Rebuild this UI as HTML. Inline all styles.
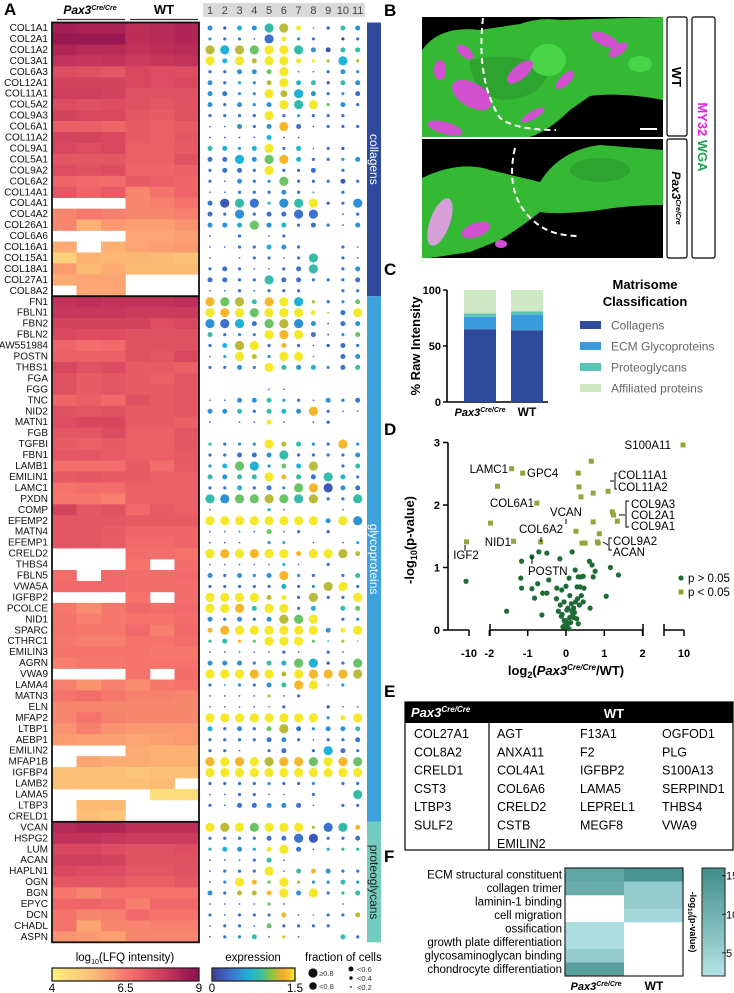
<!DOCTYPE html>
<html><head><meta charset="utf-8"><style>
html,body{margin:0;padding:0;background:#fff;}
svg{display:block;font-family:"Liberation Sans",Arial,sans-serif;}
</style></head><body>
<svg id="fig" width="734" height="993" viewBox="0 0 734 993" xmlns="http://www.w3.org/2000/svg">
<defs>
<linearGradient id="lfqGrad" x1="0" x2="1" y1="0" y2="0">
<stop offset="0" stop-color="#fdf07b"/><stop offset="0.16" stop-color="#fdd27a"/><stop offset="0.3" stop-color="#fcb774"/><stop offset="0.4" stop-color="#fb9a70"/><stop offset="0.5" stop-color="#f6786c"/><stop offset="0.6" stop-color="#eb6066"/><stop offset="0.7" stop-color="#d9475f"/><stop offset="0.8" stop-color="#c1335a"/><stop offset="0.9" stop-color="#a51e54"/><stop offset="1" stop-color="#8c114f"/>
</linearGradient>
<linearGradient id="exprGrad" x1="0" x2="1" y1="0" y2="0">
<stop offset="0" stop-color="#3e3e9a"/><stop offset="0.25" stop-color="#3a78d4"/><stop offset="0.45" stop-color="#1fb3d6"/><stop offset="0.6" stop-color="#40bf98"/><stop offset="0.72" stop-color="#8dc63f"/><stop offset="0.86" stop-color="#f7a92c"/><stop offset="1" stop-color="#f4e829"/>
</linearGradient>
<linearGradient id="goGrad" x1="0" x2="0" y1="0" y2="1">
<stop offset="0" stop-color="#3f8d8a"/><stop offset="1" stop-color="#b4e3e6"/>
</linearGradient>
</defs>
<g id="panelA"></g>
<g id="panelB">
<text x="384" y="16" font-size="17" font-weight="bold">B</text>
<rect x="422" y="17" width="241" height="120" fill="#000"/>
<path d="M422,50 Q440,25 480,30 L520,24 Q540,17 560,20 L663,17 L663,100 Q620,92 590,96 L570,110 Q550,130 530,137 L422,137 Z" fill="#35b935"/>
<path d="M470,60 Q520,50 550,70 Q540,100 500,100 Q470,90 470,60Z" fill="#2fa32f"/>
<ellipse cx="548" cy="60" rx="18" ry="16" fill="#48d648"/>
<ellipse cx="640" cy="64" rx="12" ry="8" fill="#48d648"/>
<g fill="#d050d0">
<ellipse cx="472" cy="95" rx="22" ry="12" transform="rotate(30 472 95)"/>
<ellipse cx="445" cy="128" rx="18" ry="6" transform="rotate(15 445 128)"/>
<ellipse cx="520" cy="72" rx="16" ry="7" transform="rotate(-40 520 72)"/>
<ellipse cx="565" cy="80" rx="12" ry="5" transform="rotate(-45 565 80)"/>
<ellipse cx="605" cy="40" rx="15" ry="6" transform="rotate(25 605 40)"/>
<ellipse cx="618" cy="50" rx="11" ry="5" transform="rotate(-35 618 50)"/>
<ellipse cx="533" cy="115" rx="13" ry="4" transform="rotate(-30 533 115)"/>
<ellipse cx="465" cy="52" rx="10" ry="5" transform="rotate(40 465 52)"/>
<ellipse cx="440" cy="70" rx="6" ry="10"/>
</g>
<path d="M483,18 Q476,80 500,118 Q515,130 556,130" fill="none" stroke="#fff" stroke-width="2" stroke-dasharray="6,4"/>
<line x1="640" y1="129" x2="657" y2="129" stroke="#fff" stroke-width="2"/>
<rect x="422" y="139" width="241" height="119" fill="#000"/>
<path d="M422,178 Q460,160 490,170 L540,182 Q560,150 600,145 L663,150 L663,205 Q630,205 600,210 Q560,215 540,212 Q520,228 500,240 L470,252 L430,258 L422,258 Z" fill="#35b935"/>
<ellipse cx="600" cy="170" rx="30" ry="12" fill="#2fa32f"/>
<g fill="#d050d0">
<ellipse cx="476" cy="230" rx="15" ry="7" transform="rotate(-20 476 230)"/>
<ellipse cx="501" cy="244" rx="6" ry="4"/>
</g>
<ellipse cx="440" cy="222" rx="10" ry="25" transform="rotate(20 440 222)" fill="#d8a0d8"/>
<path d="M515,148 Q503,200 540,226 Q555,236 580,236" fill="none" stroke="#fff" stroke-width="2" stroke-dasharray="6,4"/>
<rect x="667" y="17" width="20" height="119" rx="2" fill="#fff" stroke="#000" stroke-width="1.2"/>
<text transform="translate(672 77) rotate(90)" font-size="13" font-weight="bold" text-anchor="middle">WT</text>
<rect x="667" y="139" width="20" height="119" rx="2" fill="#fff" stroke="#000" stroke-width="1.2"/>
<text transform="translate(672 198) rotate(90)" font-size="12" font-weight="bold" font-style="italic" text-anchor="middle">Pax3<tspan font-size="7" dy="-4">Cre/Cre</tspan></text>
<rect x="692" y="17" width="23" height="241" rx="2" fill="#fff" stroke="#000" stroke-width="1.2"/>
<text transform="translate(698 137) rotate(90)" font-size="13" font-weight="bold" text-anchor="middle"><tspan fill="#e020e0">MY32 </tspan><tspan fill="#1ea050">WGA</tspan></text>
</g>
<g id="panelC">
<text x="384" y="275" font-size="17" font-weight="bold">C</text>
<text transform="translate(420 346) rotate(-90)" font-size="13" font-weight="bold" text-anchor="middle">% Raw Intensity</text>
<text x="645" y="289" font-size="13" font-weight="bold" text-anchor="middle">Matrisome</text>
<text x="645" y="306" font-size="13" font-weight="bold" text-anchor="middle">Classification</text>
</g>
<g id="panelD">
<text x="384" y="435" font-size="17" font-weight="bold">D</text>
<text transform="translate(414 540) rotate(-90)" font-size="13" font-weight="bold" text-anchor="middle">-log<tspan font-size="9" dy="3">10</tspan><tspan dy="-3">(p-value)</tspan></text>
<text x="566" y="675" font-size="13" font-weight="bold" text-anchor="middle">log<tspan font-size="9" dy="3">2</tspan><tspan dy="-3">(</tspan><tspan font-style="italic">Pax3</tspan><tspan font-size="8" font-style="italic" dy="-5">Cre/Cre</tspan><tspan dy="5">/WT)</tspan></text>
</g>
<g id="panelE">
<text x="384" y="697" font-size="17" font-weight="bold">E</text>
<rect x="405" y="702" width="328" height="148" fill="#fff" stroke="#000" stroke-width="1.2"/>
<rect x="405" y="702" width="328" height="21" fill="#000"/>
<text x="411" y="717" font-size="13" font-weight="bold" font-style="italic" fill="#fff">Pax3<tspan font-size="8" dy="-5">Cre/Cre</tspan></text>
<text x="614" y="718" font-size="13" font-weight="bold" fill="#fff" text-anchor="middle">WT</text>
<line x1="489" y1="723" x2="489" y2="850" stroke="#000" stroke-width="1.2"/>
</g>
<g id="panelF">
<text x="384" y="862" font-size="17" font-weight="bold">F</text>
<rect x="702" y="868" width="23" height="108" fill="url(#goGrad)" stroke="#222" stroke-width="1"/>
<text transform="translate(690 922) rotate(90)" font-size="9" font-weight="bold" text-anchor="middle">-log<tspan font-size="6" dy="2">10</tspan><tspan dy="-2">(p-value)</tspan></text>
<text x="596" y="990" font-size="11" font-weight="bold" font-style="italic" text-anchor="middle">Pax3<tspan font-size="7" dy="-4">Cre/Cre</tspan></text>
<text x="654" y="990" font-size="12" font-weight="bold" text-anchor="middle">WT</text>
</g>
</svg>
<script>
// ---------- Panel A data ----------
const collagenGenes=["COL1A1","COL2A1","COL1A2","COL3A1","COL6A3","COL12A1","COL11A1","COL5A2","COL9A3","COL6A1","COL11A2","COL9A1","COL5A1","COL9A2","COL6A2","COL14A1","COL4A1","COL4A2","COL26A1","COL6A6","COL16A1","COL15A1","COL18A1","COL27A1","COL8A2"];
const glycoGenes=["FN1","FBLN1","FBN2","FBLN2","AW551984","POSTN","THBS1","FGA","FGG","TNC","NID2","MATN1","FGB","TGFBI","FBN1","LAMB1","EMILIN1","LAMC1","PXDN","COMP","EFEMP2","MATN4","EFEMP1","CRELD2","THBS4","FBLN5","VWA5A","IGFBP2","PCOLCE","NID1","SPARC","CTHRC1","EMILIN3","AGRN","VWA9","LAMA4","MATN3","ELN","MFAP2","LTBP1","AEBP1","EMILIN2","MFAP1B","IGFBP4","LAMB2","LAMA5","LTBP3","CRELD1"];
const proteoGenes=["VCAN","HSPG2","LUM","ACAN","HAPLN1","OGN","BGN","EPYC","DCN","CHADL","ASPN"];
const sampleCols=["Pax3-1","Pax3-2","Pax3-3","WT-1","WT-2","WT-3"];
const _=null;
const lfqCollagen=[
[8.5,8.4,8.4,8.1,8.2,8.3],[8.7,8.7,8.7,8.1,8.2,8.3],[8.3,8.2,8.2,8.0,8.1,8.2],[8.0,7.9,8.0,7.8,7.9,8.0],[7.4,7.3,7.2,7.5,7.4,7.4],
[7.6,7.6,7.6,7.5,7.4,7.5],[7.7,7.7,7.6,7.3,7.3,7.3],[7.4,7.3,7.4,7.3,7.2,7.3],[7.6,7.5,7.5,7.2,7.1,7.3],[7.0,7.0,6.9,7.1,7.0,7.1],
[7.6,7.6,7.5,7.1,7.0,7.2],[7.5,7.4,7.5,7.0,7.0,7.1],[7.2,7.2,7.2,7.0,7.0,7.3],[7.4,7.3,7.4,6.9,6.9,7.0],[6.9,6.8,6.7,7.1,7.0,6.9],
[7.2,6.9,7.1,6.3,6.6,6.9],[_,_,_,6.3,6.4,6.6],[6.3,6.5,6.4,6.3,6.3,6.4],[6.3,5.6,6.0,5.9,5.9,6.1],[_,_,_,5.8,5.8,5.9],
[5.7,_,5.6,5.8,5.9,6.0],[4.8,5.6,5.5,5.5,5.4,5.2],[6.0,5.4,5.7,5.4,5.4,5.4],[5.7,5.8,5.8,_,_,_],[_,5.8,5.8,_,_,_]];
const lfqGlyco=[
[8.0,8.1,8.0,8.0,8.0,8.1],[7.9,7.9,7.9,7.8,7.8,7.8],[7.6,7.6,7.6,7.6,7.4,7.5],[7.5,7.4,7.4,7.3,7.3,7.3],[6.9,6.7,6.8,7.3,7.3,7.3],
[7.0,7.0,7.0,7.3,7.2,7.5],[7.5,7.3,7.4,7.1,7.1,7.0],[7.3,7.1,7.2,7.1,7.0,7.2],[7.3,7.1,7.2,7.1,7.1,7.2],[6.9,7.0,6.8,7.3,7.1,7.2],
[7.3,7.2,7.3,7.1,7.1,7.2],[7.4,7.5,7.5,7.1,7.1,7.0],[7.2,7.2,7.4,7.0,7.0,7.2],[7.1,7.0,7.1,7.0,7.0,7.2],[7.2,7.2,7.1,7.0,7.0,7.1],
[6.7,6.7,6.7,7.1,6.7,7.1],[7.1,7.2,7.1,7.1,7.0,7.0],[6.6,6.7,6.7,7.0,7.0,7.0],[6.5,6.5,6.4,7.0,7.0,7.0],[7.6,7.2,7.3,6.8,7.1,7.0],
[7.2,7.2,7.2,7.1,7.1,7.1],[7.2,7.2,7.1,6.9,6.9,6.9],[7.2,7.2,7.1,6.8,6.8,6.9],[_,_,_,6.7,6.7,6.6],[_,_,_,6.6,_,6.7],
[6.7,_,6.8,6.7,6.7,6.8],[6.8,6.8,6.8,6.7,6.7,6.7],[_,_,_,6.6,_,6.7],[6.5,6.2,6.5,6.8,6.7,6.8],[6.6,6.4,6.5,6.6,6.6,6.7],
[6.6,6.5,6.5,6.8,6.4,6.8],[6.5,6.4,6.4,6.6,6.6,6.7],[6.6,6.6,6.6,6.6,6.5,6.5],[6.4,6.5,6.5,6.6,6.6,6.6],[_,_,_,6.6,_,6.7],
[6.4,6.1,6.4,6.2,6.5,6.6],[6.6,6.7,6.5,6.4,6.4,6.3],[6.3,6.3,6.3,6.3,6.3,6.3],[6.3,6.6,6.4,6.3,6.3,6.3],[6.1,6.4,6.1,6.0,6.0,6.0],
[6.0,5.9,5.9,5.8,5.9,6.0],[_,_,_,5.7,5.6,5.6],[_,5.8,5.7,5.7,5.6,5.6],[5.3,5.3,5.3,5.1,5.3,5.3],[5.3,5.3,5.3,5.3,5.4,_],
[_,_,_,_,4.5,4.5],[_,5.4,5.4,_,_,_],[_,5.3,5.1,_,_,_]];
const lfqProteo=[
[8.2,8.3,8.3,8.1,8.1,8.1],[8.0,8.0,7.9,7.8,7.8,7.8],[7.5,7.5,7.4,7.3,7.3,7.4],[7.7,7.7,7.6,7.3,7.3,7.3],[7.5,7.4,7.4,7.2,7.2,7.3],
[7.2,7.2,7.2,7.0,7.0,7.2],[6.5,6.3,6.6,6.6,6.6,6.6],[6.9,6.9,6.8,6.4,6.8,6.8],[6.6,6.3,6.4,6.8,6.6,6.6],[6.6,5.8,6.3,6.3,6.4,6.4],[6.1,6.0,5.9,6.3,6.3,6.3]];
// dot plot: per gene, 11 clusters; fraction bin digits (0 none..5 >=0.8) and expression digits (0..9 -> 0..1.5)
const clusterLabels=["1","2","3","4","5","6","7","8","9","10","11"];
const fracBins=[
"32335531233","22215322022","55555553333","53535532252","22333511232","32223533233","33225453223","32323555232","22225222220","11323531222","11113110000","33235231220","33535532223","23325223020","21322522232","11222321020","35552555225","32523355012","33353323213","10201200000","11223320021","10122125021","23211235023","33225332223","11212220022",
"55535552223","55555553135","55535553133","32225553123","23552321232","12532551033","22325333233","00000000000","00001100000","11333221323","33323335211","10113101200","00000000000","22225332252","22333522223","23552335023","33335333532","22323255533","55555555225","10002100010","55555555355","11113120200","11102201012","55555535553","11111210200",
"32323522023","22222322552","55553325225","55535523033","32323555022","35555555335","23225552121","11111210210","33323355225","55555355555","21223355120","11112120000","11111200211","55555555235","32323532333","22223321223","22102302532","55555555555","55555555555","22222222022","11221102005","21333331022","00000000000",
"55555552553","22223355223","23323531222","11123100000","12225133322","12532522232","32333535223","11112100010","21222311223","12213222200","12231210032"];
const exprBins=[
"31435794153","32222932102","74769953155","94979999747","22336922233","32437945153","32339743232","32333959632","22229242220","22323821222","11114110000","54349242210","22436842233","22229222020","22323622212","22222322020","21525359123","22322222702","33463422223","10202200000","22224320022","20222225022","22222225023","22225222222","22222220022",
"86758947236","98969999729","32426733123","52339892136","24792822122","24973994023","22329534325","00000000000","00002200000","22335422322","33525438222","20229202100","00000000000","52339753283","22223522223","34643647025","53559852542","22422368132","53667657225","20004200020","99999999393","22226220100","22203502024","98989989977","22222420200",
"32333832025","22222423792","99997927229","99859924056","32323769023","88999999399","55869996476","22222220220","33325464126","99989798887","22323589330","22227220000","22222200122","99999999399","42326723335","22222322222","22202202422","89897886986","99999999999","22223223022","22222202005","22223322022","00000000000",
"97969997258","22222221222","54349922455","22225200000","22229258322","23986973353","32778939255","22226200020","22222824227","22226222200","22352820052"];
const lfqTicks=["4","6.5","9"];
const exprTicks=["0","1.5"];

// ---------- Panel C data ----------
const stackGroups=["Pax3","WT"];
const stackCategories=["Collagens","ECM Glycoproteins","Proteoglycans","Affiliated proteins"];
const stackCollagens=[65,64];
const stackGlyco=[11,14];
const stackProteo=[3,3];
const stackAffiliated=[21,19];
const cTicks=[0,50,100];

// ---------- Panel D data ----------
const sigLog2FC=[-1.79,-1.97,-1.37,-0.76,-0.66,0.34,0.39,0.71,1.10,0.26,0.71,0.87,0.42,0.50,0.82,0.84,1.21,1.24,1.34,-1.42,-1.13,0.66,0.32,9.8,-10.5];
const sigNegLogP=[2.30,1.71,1.42,2.03,1.41,2.29,2.13,2.19,2.22,1.58,1.73,1.54,1.39,1.39,1.41,1.39,1.89,1.84,1.74,2.58,2.51,2.70,2.51,2.96,1.41];
const nsLog2FC=[-10.6,-1.55,-1.16,-1.18,-1.16,-0.89,-0.71,-0.50,-0.89,-0.82,-0.74,-0.63,-0.61,-0.50,-0.16,-0.24,-0.11,0.16,0.08,0.24,0.29,0.32,0.39,0.45,0.61,0.68,0.76,0.71,0.37,0.47,1.16,1.37,1.05,0.63,0.32,0.0,0.05,-0.05,0.10,-0.10,0.15,0.20,-0.15,0.25,0.30,-0.20,0.10,0.05,-0.05,0.20,0.35,0.0,0.08,-0.02,0.12,-0.08,0.18,0.40,0.45,-0.25,0.0,-0.45,0.28,0.22,-0.12,0.02,0.14];
const nsNegLogP=[0.78,0.30,1.10,0.83,0.67,1.17,1.25,1.23,0.66,0.51,0.74,0.24,0.59,0.59,1.14,0.67,0.64,1.25,0.83,0.96,0.69,0.85,0.85,0.86,1.10,1.04,0.94,0.85,0.69,0.67,1.00,0.88,0.54,0.35,0.10,0.05,0.10,0.15,0.20,0.25,0.30,0.35,0.40,0.45,0.50,0.30,0.55,0.35,0.45,0.20,0.40,0.15,0.02,0.08,0.12,0.05,0.25,0.55,0.45,0.50,0.70,0.80,0.18,0.28,0.22,0.32,0.42];
const dYTicks=[0,1,2,3];
const dXTicks=[-10,-2,-1,0,1,2,10];

// ---------- Panel E data ----------
const tablePax3=["COL27A1","COL8A2","CRELD1","CST3","LTBP3","SULF2"];
const tableWT1=["AGT","ANXA11","COL4A1","COL6A6","CRELD2","CSTB","EMILIN2"];
const tableWT2=["F13A1","F2","IGFBP2","LAMA5","LEPREL1","MEGF8"];
const tableWT3=["OGFOD1","PLG","S100A13","SERPIND1","THBS4","VWA9"];

// ---------- Panel F data ----------
const goTerms=["ECM structural constituent","collagen trimer","laminin-1 binding","cell migration","ossification","growth plate differentiation","glycosaminoglycan binding","chondrocyte differentiation"];
const goPax3=[12,11,null,null,3,3,6,13];
const goWT=[15,6,6,4,null,null,null,null];
const goTicks=[5,10,15];

const NS="http://www.w3.org/2000/svg";
function mk(parent,tag,attrs,txt){const e=document.createElementNS(NS,tag);for(const k in attrs)e.setAttribute(k,attrs[k]);if(txt!==undefined)e.textContent=txt;parent.appendChild(e);return e;}
function hex(c){return [parseInt(c.slice(1,3),16),parseInt(c.slice(3,5),16),parseInt(c.slice(5,7),16)];}
function interp(stops,t){t=Math.max(0,Math.min(1,t));for(let i=1;i<stops.length;i++){if(t<=stops[i][0]){const a=stops[i-1],b=stops[i];const f=(t-a[0])/(b[0]-a[0]);const ca=hex(a[1]),cb=hex(b[1]);return "rgb("+ca.map((v,k)=>Math.round(v+(cb[k]-v)*f)).join(",")+")";}}return stops[stops.length-1][1];}
const lfqStops=[[0,"#fdf07b"],[0.16,"#fdd27a"],[0.3,"#fcb774"],[0.4,"#fb9a70"],[0.5,"#f6786c"],[0.6,"#eb6066"],[0.7,"#d9475f"],[0.8,"#c1335a"],[0.9,"#a51e54"],[1,"#8c114f"]];
const exprStops=[[0,"#3e3e9a"],[0.25,"#3a78d4"],[0.45,"#1fb3d6"],[0.6,"#40bf98"],[0.72,"#8dc63f"],[0.86,"#f7a92c"],[1,"#f4e829"]];

// ---------- Draw Panel A ----------
const A=document.getElementById("panelA");
let t=mk(A,"text",{x:4,y:15,"font-size":17,"font-weight":"bold"},"A");


t=mk(A,"text",{x:90,y:14,"font-size":12,"font-weight":"bold","font-style":"italic","text-anchor":"middle"});
t.innerHTML='Pax3<tspan font-size="7" dy="-4">Cre/Cre</tspan>';


t=mk(A,"text",{x:164,y:14,"font-size":13,"font-weight":"bold","text-anchor":"middle"},"WT");


mk(A,"line",{x1:57,y1:19.5,x2:125,y2:19.5,stroke:"#333","stroke-width":1.3});
mk(A,"line",{x1:130,y1:19.5,x2:198,y2:19.5,stroke:"#333","stroke-width":1.3});
mk(A,"rect",{x:203,y:3,width:162,height:14,fill:"#d9d9d9"});
const hmX0=52,hmX1=199,cw=(hmX1-hmX0)/sampleCols.length;
const dotX0=210,dotDX=14.77;
const rowH=10.95,rowTop=22.5;
const xLfq=v=>(v-4)/5;
const xExpr=v=>v/1.5;
clusterLabels.forEach((c,j)=>{
 const e=mk(A,"text",{x:dotX0+j*dotDX,y:14,"font-size":11,fill:"#444","text-anchor":"middle"},c);
 
 
});
const groups=[{name:"collagens",genes:collagenGenes,vals:lfqCollagen,color:"#2f4a9b"},{name:"glycoproteins",genes:glycoGenes,vals:lfqGlyco,color:"#3ea2dc"},{name:"proteoglycans",genes:proteoGenes,vals:lfqProteo,color:"#74cbbf"}];
let ri=0;
groups.forEach(g=>{
 const top=rowTop+ri*rowH;
 const h=g.genes.length*rowH;
 g.genes.forEach((gene,i)=>{
  const y=rowTop+(ri+i)*rowH;
  const lb=mk(A,"text",{x:48,y:y+8.5,"font-size":10,"text-anchor":"end",fill:"#111"},gene);
  
  
  g.vals[i].forEach((v,j)=>{
   if(v===null)return;
   const r=mk(A,"rect",{x:hmX0+j*cw,y:y,width:cw+0.3,height:rowH+0.3,fill:interp(lfqStops,xLfq(v))});
   
   
  });
  const fs=fracBins[ri+i]||"00000000000",es=exprBins[ri+i]||"00000000000";
  for(let j=0;j<11;j++){
   const f=+fs[j];if(!f)continue;
   const ex=(+es[j])/9*1.5;
   const rad=[0,0.9,1.6,2.5,3.4,4.6][f];
   const d=mk(A,"circle",{cx:dotX0+j*dotDX,cy:y+rowH/2,r:rad,fill:interp(exprStops,xExpr(ex))});
   
   
  }
 });
 const bd=mk(A,"rect",{x:hmX0,y:top,width:hmX1-hmX0,height:h,fill:"none",stroke:"#111","stroke-width":1.8});
 
 
 const gb=mk(A,"rect",{x:367,y:top,width:14,height:h,fill:g.color});
 
 
 const gt=mk(A,"text",{transform:`translate(370 ${top+h/2}) rotate(90)`,"font-size":12,fill:g.name==="proteoglycans"?"#222":"#fff","text-anchor":"middle"},g.name);
 
 
 ri+=g.genes.length;
});
// colorbars
t=mk(A,"text",{x:125,y:961,"font-size":11.5,"text-anchor":"middle"});
t.innerHTML='log<tspan font-size="7" dy="3">10</tspan><tspan dy="-3">(LFQ intensity)</tspan>';


t=mk(A,"rect",{x:52,y:968,width:147,height:13,fill:"url(#lfqGrad)",stroke:"#222","stroke-width":1.3});


lfqTicks.forEach(v=>{const e=mk(A,"text",{x:52+xLfq(+v)*147,y:992,"font-size":11.5,"text-anchor":"middle"},v);
 
 });
t=mk(A,"text",{x:253,y:961,"font-size":11.5,"text-anchor":"middle"},"expression");


t=mk(A,"rect",{x:212,y:968,width:83,height:13,fill:"url(#exprGrad)",stroke:"#222","stroke-width":1.3});


exprTicks.forEach(v=>{const e=mk(A,"text",{x:212+xExpr(+v)*83,y:992,"font-size":11.5,"text-anchor":"middle"},v);
 
 });
t=mk(A,"text",{x:305,y:961,"font-size":11.5},"fraction of cells");


[[313,973,4.6,"\u22650.8"],[313,986,3.8,"<0.8"],[351,969,2.5,"<0.6"],[351,978,1.7,"<0.4"],[351,987,0.9,"<0.2"]].forEach(s=>{
 const c=mk(A,"circle",{cx:s[0],cy:s[1],r:s[2],fill:"#111"});
 
 
 const e=mk(A,"text",{x:s[0]+6,y:s[1]+3,"font-size":7.5,fill:"#333"},s[3]);
 
 
});

// ---------- Panel C ----------
const C=document.getElementById("panelC");
const cy0=402,cyH=112,cAxX=447;
const yC=v=>cy0-v/100*cyH;
mk(C,"line",{x1:cAxX,y1:yC(100),x2:cAxX,y2:cy0,stroke:"#000","stroke-width":1.6});
mk(C,"line",{x1:cAxX,y1:cy0,x2:548,y2:cy0,stroke:"#000","stroke-width":1.6});
cTicks.forEach(v=>{mk(C,"line",{x1:cAxX-4,y1:yC(v),x2:cAxX,y2:yC(v),stroke:"#000","stroke-width":1.4});
 const e=mk(C,"text",{x:cAxX-6,y:yC(v)+4,"font-size":11,"font-weight":"bold","text-anchor":"end"},String(v));
 
 });
const stackColors=["#2f4a9b","#3a9bdc","#5cc3b5","#cde8c2"];
const stackSeries=[stackCollagens,stackGlyco,stackProteo,stackAffiliated];
stackGroups.forEach((gname,gi)=>{
 const bx=464+gi*47;let acc=0;
 stackSeries.forEach((ser,si)=>{
  const v=ser[gi];
  const r=mk(C,"rect",{x:bx,y:yC(acc+v),width:32,height:yC(acc)-yC(acc+v),fill:stackColors[si]});
  
  
  acc+=v;
 });
});
t=mk(C,"text",{x:480,y:416,"font-size":11,"font-weight":"bold","font-style":"italic","text-anchor":"middle"});
t.innerHTML='Pax3<tspan font-size="7" dy="-4">Cre/Cre</tspan>';


t=mk(C,"text",{x:527,y:416,"font-size":12,"font-weight":"bold","text-anchor":"middle"},"WT");


stackCategories.forEach((c,i)=>{
 const y=325+i*21;
 const r=mk(C,"rect",{x:580,y:y-4,width:21,height:8,fill:stackColors[i]});
 
 
 const e=mk(C,"text",{x:611,y:y+4.5,"font-size":12,fill:"#666"},c);
 
 
});

// ---------- Panel D ----------
const D=document.getElementById("panelD");
function vx(v){if(v<=-5)return 469+(v+10)*5;if(v>=5)return 684+(v-10)*5;return 566+v*38.3;}
const vy=p=>630-p*62.5;
mk(D,"line",{x1:448,y1:vy(3),x2:448,y2:630,stroke:"#000","stroke-width":1.6});
dYTicks.forEach(v=>{mk(D,"line",{x1:443,y1:vy(v),x2:448,y2:vy(v),stroke:"#000","stroke-width":1.5});
 const e=mk(D,"text",{x:440,y:vy(v)+4,"font-size":11,"font-weight":"bold","text-anchor":"end"},String(v));
 
 });
[[448,469],[490,643],[664,684]].forEach(s=>mk(D,"line",{x1:s[0],y1:630,x2:s[1],y2:630,stroke:"#000","stroke-width":1.6}));
dXTicks.forEach(v=>{mk(D,"line",{x1:vx(v),y1:630,x2:vx(v),y2:636,stroke:"#000","stroke-width":1.5});
 const e=mk(D,"text",{x:vx(v),y:657,"font-size":11,"font-weight":"bold","text-anchor":"middle"},String(v));
 
 });
[490,643,664].forEach(x=>mk(D,"line",{x1:x,y1:624,x2:x,y2:636,stroke:"#000","stroke-width":1.5}));
nsLog2FC.forEach((v,i)=>{const c=mk(D,"circle",{cx:vx(v),cy:vy(nsNegLogP[i]),r:2.6,fill:"#1f6b35"});
 
 });
sigLog2FC.forEach((v,i)=>{const c=mk(D,"rect",{x:vx(v)-2.5,y:vy(sigNegLogP[i])-2.5,width:5,height:5,fill:"#8fa63a"});
 
 });
[["S100A11",671,449,"end"],["LAMC1",508,473,"end"],["GPC4",527,477,"start"],["COL11A1",618,479,"start"],["COL11A2",618,491,"start"],["COL6A1",534,507,"end"],["VCAN",566,516,"middle"],["COL9A3",631,508,"start"],["COL2A1",631,519,"start"],["COL9A1",631,530,"start"],["COL6A2",541,533,"middle"],["NID1",511,546,"end"],["COL9A2",613,545,"start"],["ACAN",613,556,"start"],["IGF2",466,559,"middle"],["POSTN",528,575,"start"]].forEach(l=>{
 const e=mk(D,"text",{x:l[1],y:l[2],"font-size":11.5,"text-anchor":l[3]},l[0]);
 
 });
[ "M617,473 L615,473 L615,489 L617,489","M629,501 L626,501 L626,527 L629,527","M612,538 L609,538 L609,550 L612,550","M610,481 L614,481","M619,515 L625,515","M603,542 L608,545","M532,557 L532,564","M541,537 L541,542","M465,545 L465,551","M566,519 L566,524" ].forEach(d=>mk(D,"path",{d:d,fill:"none",stroke:"#000","stroke-width":1}));
[["p > 0.05",578,"c"],["p < 0.05",592,"s"]].forEach(l=>{
 if(l[2]==="c"){const c=mk(D,"circle",{cx:681,cy:l[1],r:2.6,fill:"#1f6b35"});}
 else{const c=mk(D,"rect",{x:678.5,y:l[1]-2.5,width:5,height:5,fill:"#8fa63a"});}
 const e=mk(D,"text",{x:688,y:l[1]+4,"font-size":11.5},l[0]);
 
 });

// ---------- Panel E ----------
const E=document.getElementById("panelE");
[[tablePax3,414],[tableWT1,497],[tableWT2,580],[tableWT3,662]].forEach(col=>{
 col[0].forEach((g,i)=>{const e=mk(E,"text",{x:col[1],y:738+i*18.3,"font-size":12.5},g);
  
  });
});

// ---------- Panel F ----------
const F=document.getElementById("panelF");
const fTop=868,fRow=13.5,fx0=565,fcw=59;
const goY=v=>976-(v-2)/14*108;
goTerms.forEach((term,i)=>{
 const y=fTop+i*fRow;
 const e=mk(F,"text",{x:562,y:y+10.5,"font-size":11.5,"text-anchor":"end"},term);
 
 
 [goPax3,goWT].forEach((ser,j)=>{
  const v=ser[i];if(v===null)return;
  const r=mk(F,"rect",{x:fx0+j*fcw,y:y,width:fcw,height:fRow+0.3,fill:interp([[0,"#b4e3e6"],[1,"#3f8d8a"]],(v-2)/14)});
  
  
 });
});
t=mk(F,"rect",{x:fx0,y:fTop,width:2*fcw,height:8*fRow,fill:"none",stroke:"#222","stroke-width":1.2});


goTicks.forEach(v=>{mk(F,"line",{x1:722,y1:goY(v),x2:726,y2:goY(v),stroke:"#222","stroke-width":1});
 const e=mk(F,"text",{x:726,y:goY(v)+4,"font-size":11},String(v));
 
 });
</script>
</body></html>
